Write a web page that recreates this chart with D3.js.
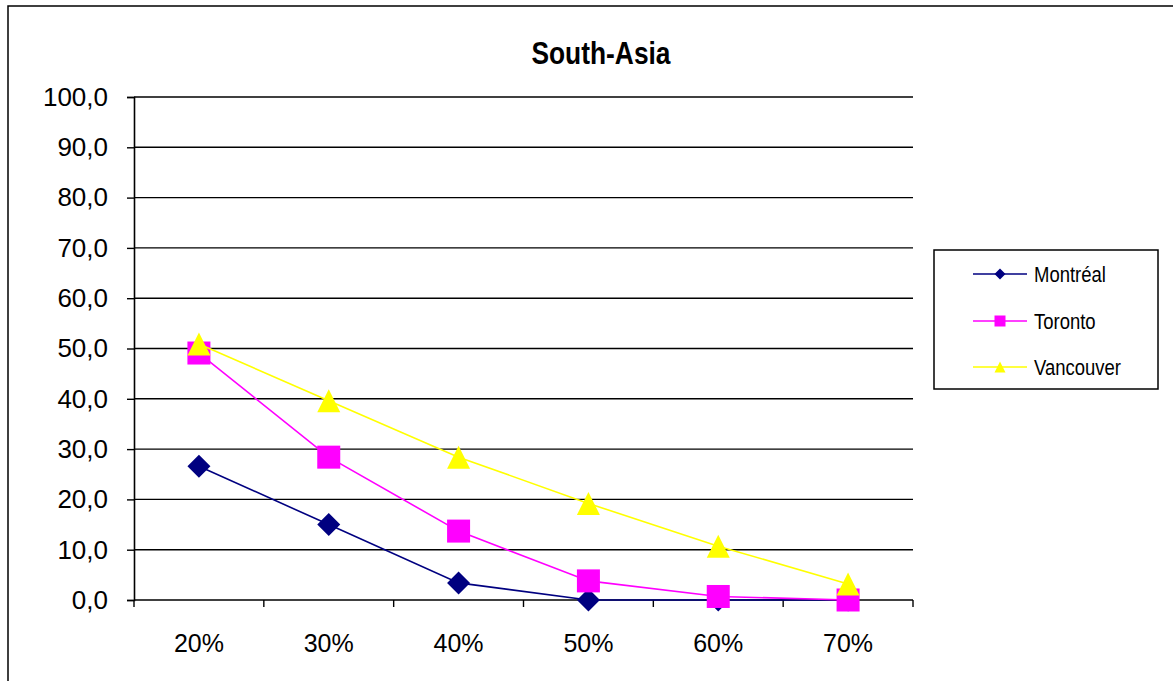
<!DOCTYPE html>
<html>
<head>
<meta charset="utf-8">
<script src="https://cdn.jsdelivr.net/npm/d3@7"></script>
<style>
  html, body { margin: 0; padding: 0; background: #fff; }
  svg { display: block; font-family: "Liberation Sans", Arial, sans-serif; }
</style>
</head>
<body>
<svg id="chart" width="1173" height="681"></svg>
<script>
// Share of population (%) by threshold, South-Asia group
const categories = ["20%", "30%", "40%", "50%", "60%", "70%"];
const montreal  = [26.6, 15.0, 3.4, 0.0, 0.0, 0.0];
const toronto   = [49.1, 28.4, 13.7, 3.8, 0.7, 0.0];
const vancouver = [50.9, 39.6, 28.4, 19.2, 10.7, 3.2];
const yTicks = [0, 10, 20, 30, 40, 50, 60, 70, 80, 90, 100];
const titleText = "South-Asia";

const series = [
  { name: "Montréal",  values: montreal,  color: "#000080", shape: "diamond" },
  { name: "Toronto",   values: toronto,   color: "#FF00FF", shape: "square" },
  { name: "Vancouver", values: vancouver, color: "#FFFF00", shape: "triangle" }
];

const svg = d3.select("#chart");
const W = 1173, H = 681;
const plot = { left: 134, right: 913, top: 97, bottom: 600 };

// Outer chart frame (runs past the right and bottom edges)
svg.append("path")
  .attr("d", `M8,${H + 5} L8,6 L${W + 5},6`)
  .attr("fill", "none").attr("stroke", "#000").attr("stroke-width", 1.5);

const x = d3.scaleBand().domain(categories).range([plot.left, plot.right]).paddingInner(0).paddingOuter(0);
const y = d3.scaleLinear().domain([0, 100]).range([plot.bottom, plot.top]);
const fmt = v => d3.format(".1f")(v).replace(".", ",");

// Horizontal gridlines
svg.append("g").selectAll("line").data(yTicks.filter(t => t > 0)).join("line")
  .attr("x1", plot.left).attr("x2", plot.right)
  .attr("y1", d => y(d)).attr("y2", d => y(d))
  .attr("stroke", "#000").attr("stroke-width", 1.4);

// Y axis
const yAxis = svg.append("g").attr("transform", `translate(${plot.left},0)`)
  .call(d3.axisLeft(y).tickValues(yTicks).tickFormat(fmt).tickSize(7).tickPadding(19));
yAxis.select(".domain").attr("stroke", "#000").attr("stroke-width", 1.6);
yAxis.selectAll(".tick line").attr("stroke", "#000").attr("stroke-width", 1.4);
yAxis.selectAll("text").attr("font-size", 26).attr("fill", "#000")
  .attr("font-family", "'Liberation Sans', Arial, sans-serif");

// X axis: ticks on category boundaries, labels centred in each band
const xAxis = svg.append("g").attr("transform", `translate(0,${plot.bottom})`);
xAxis.append("line").attr("x1", plot.left).attr("x2", plot.right).attr("y1", 0).attr("y2", 0)
  .attr("stroke", "#000").attr("stroke-width", 1.6);
const bounds = categories.map(c => x(c)).concat([plot.right]);
xAxis.selectAll("line.tk").data(bounds).join("line").attr("class", "tk")
  .attr("x1", d => d).attr("x2", d => d).attr("y1", 0).attr("y2", 7)
  .attr("stroke", "#000").attr("stroke-width", 1.4);
xAxis.selectAll("text").data(categories).join("text")
  .attr("x", d => x(d) + x.bandwidth() / 2).attr("y", 52)
  .attr("text-anchor", "middle").attr("font-size", 25).attr("fill", "#000")
  .text(d => d);

const cx = i => x(categories[i]) + x.bandwidth() / 2;

function marker(sel, shape, size) {
  const h = size / 2;
  if (shape === "diamond") return sel.append("path").attr("d", `M0,${-h}L${h},0L0,${h}L${-h},0Z`);
  if (shape === "square") return sel.append("rect").attr("x", -h).attr("y", -h).attr("width", size).attr("height", size);
  return sel.append("path").attr("d", `M0,${-h}L${h},${h}L${-h},${h}Z`);
}

// Series lines and markers
const line = d3.line().x((d, i) => cx(i)).y(d => y(d));
series.forEach(s => {
  const g = svg.append("g");
  g.append("path").datum(s.values).attr("d", line)
    .attr("fill", "none").attr("stroke", s.color).attr("stroke-width", 1.6);
  s.values.forEach((v, i) => {
    const m = g.append("g").attr("transform", `translate(${cx(i)},${y(v)})`);
    marker(m, s.shape, 23).attr("fill", s.color);
  });
});

// Title
const title = svg.append("text").attr("x", 601).attr("y", 64)
  .attr("text-anchor", "middle").attr("font-size", 31).attr("font-weight", "bold")
  .attr("fill", "#000").text(titleText);
title.attr("textLength", title.node().getComputedTextLength() * 0.85).attr("lengthAdjust", "spacingAndGlyphs");

// Legend
const lg = svg.append("g");
lg.append("rect").attr("x", 934).attr("y", 250).attr("width", 224).attr("height", 139)
  .attr("fill", "#fff").attr("stroke", "#000").attr("stroke-width", 1.5);
const rowY = [274, 321, 367];
series.forEach((s, i) => {
  const r = lg.append("g").attr("transform", `translate(0,${rowY[i]})`);
  r.append("line").attr("x1", 973).attr("x2", 1027).attr("y1", 0).attr("y2", 0)
    .attr("stroke", s.color).attr("stroke-width", 1.6);
  marker(r.append("g").attr("transform", "translate(1000,0)"), s.shape, 11).attr("fill", s.color);
  const t = r.append("text").attr("x", 1034).attr("y", 8).attr("font-size", 22).attr("fill", "#000").text(s.name);
  t.attr("textLength", t.node().getComputedTextLength() * 0.84).attr("lengthAdjust", "spacingAndGlyphs");
});
</script>
</body>
</html>
